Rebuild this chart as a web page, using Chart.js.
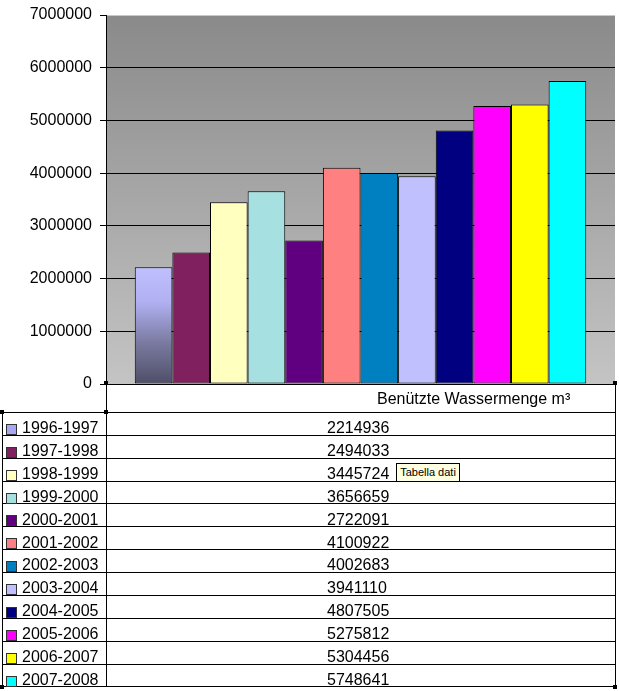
<!DOCTYPE html>
<html>
<head>
<meta charset="utf-8">
<script src="https://cdn.jsdelivr.net/npm/chart.js@4/dist/chart.umd.min.js"></script>
<style>
  html, body { margin:0; padding:0; background:#fff; }
  #wrap { position:relative; width:619px; height:691px; overflow:hidden; font-family:"Liberation Sans", Arial, sans-serif; }
  #c { position:absolute; left:0; top:0; }
  .ln { position:absolute; background:#000; }
  .txt { position:absolute; font-size:16px; line-height:16px; color:#000; white-space:nowrap; }
  .key { position:absolute; width:9px; height:9px; border:1px solid #333; }
  .hd { position:absolute; width:4px; height:4px; background:#000; }
  #tip { position:absolute; left:396px; top:463px; width:62px; height:17px; background:#ffffe1; border:1px solid #000;
         font-family:"Liberation Sans", Arial, sans-serif; font-size:11px; line-height:17px; text-align:center; color:#000; }
</style>
</head>
<body>
<div id="wrap">
  <canvas id="c" width="619" height="691"></canvas>
  <div id="table"></div>
  <div id="tip">Tabella dati</div>
</div>
<script>
const category = ["Benützte Wassermenge m³"];
const seasons = ["1996-1997","1997-1998","1998-1999","1999-2000","2000-2001","2001-2002",
                 "2002-2003","2003-2004","2004-2005","2005-2006","2006-2007","2007-2008"];
const volumes = [2214936, 2494033, 3445724, 3656659, 2722091, 4100922,
                 4002683, 3941110, 4807505, 5275812, 5304456, 5748641];
const colors = ["#a8a8f0", "#80205f", "#ffffc0", "#a6e0e0", "#600080", "#ff8080",
                "#0080c0", "#c0c0ff", "#000080", "#ff00ff", "#ffff00", "#00ffff"];
const yTicks = [0, 1000000, 2000000, 3000000, 4000000, 5000000, 6000000, 7000000];

function firstBarFill(ctx) {
  const chart = ctx.chart;
  const ca = chart.chartArea;
  const ys = chart.scales && chart.scales.y;
  if (!ca || !ys) return colors[0];
  const top = ys.getPixelForValue(volumes[0]);
  const bottom = ys.getPixelForValue(0);
  if (!Number.isFinite(top) || !Number.isFinite(bottom) || bottom <= top) return colors[0];
  const g = chart.ctx.createLinearGradient(0, top, 0, bottom);
  g.addColorStop(0, "#c0c0ff");
  g.addColorStop(0.3, "#b0b0f2");
  g.addColorStop(0.65, "#7a7aa0");
  g.addColorStop(1, "#4e4e68");
  return g;
}

const datasets = seasons.map((s, i) => ({
  label: s,
  data: [volumes[i]],
  backgroundColor: i === 0 ? firstBarFill : colors[i],
  borderColor: "#000",
  borderWidth: 1,
  borderSkipped: false,
  barPercentage: 1,
  categoryPercentage: 0.887
}));

const plotBg = {
  id: "plotBg",
  beforeDraw(chart) {
    const { ctx, chartArea: a } = chart;
    if (!a || !Number.isFinite(a.top) || !Number.isFinite(a.bottom)) return;
    const g = ctx.createLinearGradient(0, a.top, 0, a.bottom);
    g.addColorStop(0, "#8a8a8a");
    g.addColorStop(1, "#c4c4c4");
    ctx.save();
    ctx.fillStyle = g;
    ctx.fillRect(a.left, a.top, a.right - a.left, a.bottom - a.top);
    ctx.restore();
  }
};

new Chart(document.getElementById("c"), {
  type: "bar",
  data: { labels: category, datasets },
  options: {
    responsive: false,
    animation: false,
    events: [],
    layout: { padding: { left: 0, right: 4, top: 15, bottom: 307 } },
    plugins: { legend: { display: false }, tooltip: { enabled: false } },
    scales: {
      x: { display: false },
      y: {
        min: 0, max: 7000000,
        afterFit(scale) { scale.width = 106; scale.paddingTop = 0; scale.paddingBottom = 0; },
        afterBuildTicks(scale) { scale.ticks = yTicks.map(v => ({ value: v })); },
        ticks: {
          color: "#000",
          padding: 8,
          font: { family: "'Liberation Sans', Arial, sans-serif", size: 16 },
          callback: v => String(v)
        },
        grid: {
          color: c => (c.tick && c.tick.value === 7000000) ? "#c8c8c8" : "#000",
          lineWidth: 1,
          tickLength: 6,
          tickColor: "#000",
          drawTicks: true
        },
        border: { display: true, color: "#000", width: 1 }
      }
    }
  },
  plugins: [plotBg]
});

// Data table below the chart
const tbl = document.getElementById("table");
const rowTop0 = 412, rowH = 22.87, nRows = seasons.length;
const tableBottom = rowTop0 + rowH * nRows;
function add(cls, style, text) {
  const d = document.createElement("div");
  d.className = cls;
  Object.assign(d.style, style);
  if (text !== undefined) d.textContent = text;
  tbl.appendChild(d);
  return d;
}
add("ln", { left: "2px", top: rowTop0 + "px", width: "1px", height: (tableBottom - rowTop0 + 1) + "px" });
add("ln", { left: "106px", top: "383px", width: "1px", height: (tableBottom - 383 + 1) + "px" });
add("ln", { left: "615px", top: "383px", width: "1px", height: (tableBottom - 383 + 1) + "px" });
add("txt", { left: "377px", top: "390.5px" }, category[0]);
for (let i = 0; i <= nRows; i++) {
  add("ln", { left: "2px", top: Math.round(rowTop0 + i * rowH) + "px", width: "614px", height: "1px" });
}
for (let i = 0; i < nRows; i++) {
  const t = rowTop0 + i * rowH;
  add("key", { left: "6px", top: Math.round(t + 12) + "px", background: colors[i] });
  add("txt", { left: "22px", top: (t + 8.2) + "px", height: "14px", overflow: "hidden" }, seasons[i]);
  add("txt", { left: "327px", top: (t + 8.2) + "px", height: "14px", overflow: "hidden" }, String(volumes[i]));
}
[[104,381],[613,381],[0,410],[104,410],[0,685],[613,685]].forEach(p =>
  add("hd", { left: p[0] + "px", top: p[1] + "px" }));
</script>
</body>
</html>
